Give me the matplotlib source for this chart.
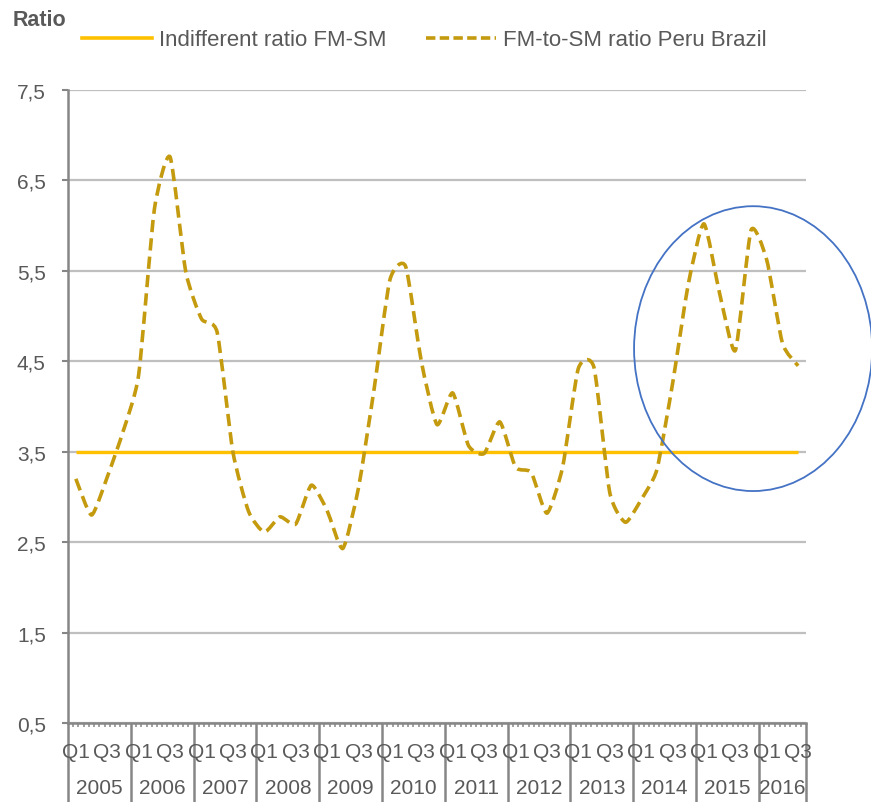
import matplotlib
matplotlib.use("Agg")
import matplotlib.pyplot as plt
import numpy as np
from matplotlib.path import Path
from matplotlib.patches import PathPatch, Ellipse
from matplotlib.lines import Line2D
from matplotlib.transforms import blended_transform_factory, offset_copy

plt.rcParams['font.family'] = ['Liberation Sans', 'DejaVu Sans']

# ---------------- data ----------------
years = ['2005', '2006', '2007', '2008', '2009', '2010', '2011', '2012',
         '2013', '2014', '2015', '2016']
months_per_year = [12, 12, 12, 12, 12, 12, 12, 12, 12, 12, 12, 9]
quarter_labels = ['Q1', 'Q3']
quarter_label_month = [1.5, 7.5]   # month slot centre within a year

# quarterly FM-to-SM ratio, 2005Q1 .. 2016Q3
ratio_peru_brazil = [
    3.20, 2.80, 3.22, 3.72,   # 2005
    4.35, 6.18, 6.76, 5.49,   # 2006
    4.97, 4.82, 3.50, 2.84,   # 2007
    2.61, 2.78, 2.70, 3.13,   # 2008
    2.85, 2.43, 3.10, 4.20,   # 2009
    5.40, 5.55, 4.50, 3.80,   # 2010
    4.15, 3.57, 3.48, 3.83,   # 2011
    3.33, 3.27, 2.82, 3.33,   # 2012
    4.42, 4.43, 3.05, 2.72,   # 2013
    2.97, 3.30, 4.25, 5.35,   # 2014
    6.02, 5.25, 4.62, 5.95,   # 2015
    5.62, 4.70, 4.45,         # 2016
]
indifferent_ratio = 3.5

yticks = [0.5, 1.5, 2.5, 3.5, 4.5, 5.5, 6.5, 7.5]

# ---------------- style ----------------
GOLD = '#C49A0E'
YELLOW = '#FFC000'
AXIS = '#868686'
GRID = '#BFBFBF'
TXT = '#595959'

W, H = 871, 803
fig = plt.figure(figsize=(W / 100, H / 100), dpi=100)
ax = fig.add_axes([68 / W, 1 - 724 / H, (806 - 68) / W, (724 - 91) / H])

n_months = sum(months_per_year)
nq = len(ratio_peru_brazil)
xq = np.arange(nq) * 3 + 1.5
yq = np.array(ratio_peru_brazil, dtype=float)

ax.set_xlim(0, n_months)
ax.set_ylim(0.5, 7.5)

# grid
ax.set_yticks(yticks)
ax.set_yticklabels([f'{v:.1f}'.replace('.', ',') for v in yticks])
ax.yaxis.grid(True, color=GRID, lw=1.6)
ax.set_axisbelow(True)

for s in ['top', 'right']:
    ax.spines[s].set_visible(False)
for s in ['left', 'bottom']:
    ax.spines[s].set_color(AXIS)
    ax.spines[s].set_linewidth(1.8)
    ax.spines[s].set_zorder(1)

ax.tick_params(axis='y', length=4, width=1.5, color=AXIS, pad=12,
               labelsize=15, labelcolor=TXT)

# x ticks: year boundaries long, monthly minor
bounds = np.concatenate([[0], np.cumsum(months_per_year)])
ax.set_xticks(bounds)
ax.set_xticklabels([''] * len(bounds))
ax.set_xticks(np.arange(1, n_months), minor=True)
ax.tick_params(axis='x', which='major', length=57, width=1.8, color=AXIS,
               direction='out')
ax.tick_params(axis='x', which='minor', length=3, width=1.1, color=AXIS,
               direction='out')

tr = blended_transform_factory(ax.transData, ax.transAxes)
tr_q = offset_copy(tr, fig=fig, x=0, y=-29, units='dots')
tr_y = offset_copy(tr, fig=fig, x=0, y=-65, units='dots')
for i, (yr, nm) in enumerate(zip(years, months_per_year)):
    start = bounds[i]
    for ql, qm in zip(quarter_labels, quarter_label_month):
        if qm < nm:
            ax.text(start + qm, 0, ql, transform=tr_q, ha='center',
                    va='center', fontsize=15, color=TXT)
    ax.text(start + nm / 2, 0, yr, transform=tr_y, ha='center',
            va='center', fontsize=15, color=TXT)

# indifferent ratio line
ax.plot(xq, [indifferent_ratio] * nq, color=YELLOW, lw=2.4, zorder=3,
        solid_capstyle='butt')

# lightly smoothed dashed line (Bezier through the data points)
P = np.column_stack([xq, yq])
Pext = np.vstack([P[0], P, P[-1]])
tension = 1.0 / 10.0
verts = [tuple(P[0])]
codes = [Path.MOVETO]
for i in range(nq - 1):
    p0, p1, p2, p3 = Pext[i], Pext[i + 1], Pext[i + 2], Pext[i + 3]
    c1 = p1 + (p2 - p0) * tension
    c2 = p2 - (p3 - p1) * tension
    verts += [tuple(c1), tuple(c2), tuple(p2)]
    codes += [Path.CURVE4] * 3
patch = PathPatch(Path(verts, codes), facecolor='none', edgecolor=GOLD,
                  lw=2.6, linestyle=(0, (3.4, 1.7)), capstyle='butt',
                  joinstyle='round', zorder=4)
ax.add_patch(patch)

# blue ellipse highlighting the latest period
ell = Ellipse((130.9, 4.64), width=45.5, height=3.15, facecolor='none',
              edgecolor='#4472C4', lw=1.3, zorder=5, clip_on=False)
ax.add_patch(ell)

# legend
h1 = Line2D([], [], color=YELLOW, lw=2.6)
h2 = Line2D([], [], color=GOLD, lw=2.6, linestyle=(0, (2.6, 1.2)))
fig.legend([h1, h2], ['Indifferent ratio FM-SM', 'FM-to-SM ratio Peru Brazil'],
           loc='center left', bbox_to_anchor=(82 / W, 1 - 41 / H), ncol=2,
           frameon=False, fontsize=16, handlelength=3.15, handletextpad=0.32,
           columnspacing=1.75, borderpad=0, borderaxespad=0, labelcolor=TXT)

fig.text(13 / W, 1 - 21 / H, 'Ratio', fontsize=15.5, fontweight='bold',
         color=TXT, ha='left', va='center')

fig.savefig('out.png', dpi=100)
